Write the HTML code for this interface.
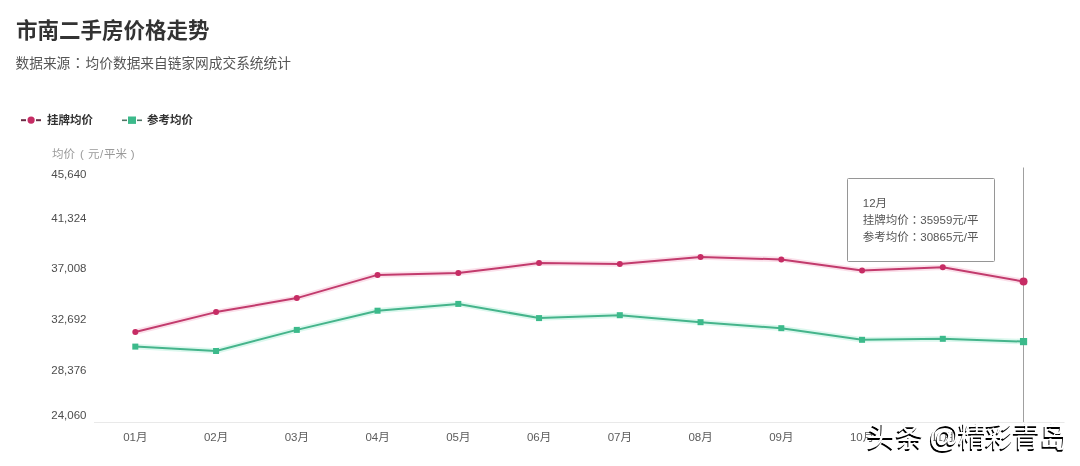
<!DOCTYPE html>
<html lang="zh-CN"><head><meta charset="utf-8"><title>市南二手房价格走势</title>
<style>
html,body{margin:0;padding:0;background:#fff;}
body{width:1080px;height:466px;position:relative;overflow:hidden;font-family:"Liberation Sans","Noto Sans CJK SC",sans-serif;}
.t{position:absolute;left:16px;top:16px;font-size:21.5px;font-weight:700;color:#333;line-height:30px;white-space:nowrap;}
.st{position:absolute;left:15.5px;top:53.5px;font-size:13.7px;color:#555;line-height:20px;white-space:nowrap;}
.lg{position:absolute;top:111px;font-size:11.5px;font-weight:700;color:#333;line-height:18px;white-space:nowrap;}
.yn{position:absolute;left:52px;top:145px;font-size:11.5px;color:#999;line-height:18px;white-space:nowrap;}
.yl{position:absolute;left:20px;width:66.5px;text-align:right;font-size:11.5px;color:#4d4d4d;line-height:14px;white-space:nowrap;}
.xl{position:absolute;top:429px;width:60px;text-align:center;font-size:11.5px;color:#5c5c5c;line-height:16px;white-space:nowrap;}
.tip{position:absolute;left:847px;top:178px;width:146px;height:82px;border:1px solid #969696;border-radius:1.5px;background:#fff;}
.tip div{position:absolute;left:14.8px;font-size:11.5px;color:#555;line-height:16px;white-space:nowrap;}
.wm.wa{font-size:31px;top:419px;}
.pp{display:inline-block;width:11.5px;text-align:center;}
.c{font-family:"Liberation Sans","Noto Sans CJK TC",sans-serif;}
.wm{position:absolute;top:419.5px;font-size:28px;font-weight:400;color:#fff;line-height:36px;white-space:nowrap;text-shadow:-1px 1.7px 0.6px #000;font-family:"Liberation Sans","Noto Sans CJK SC",sans-serif;}
</style></head><body>
<div class="t">市南二手房价格走势</div>
<div class="st">数据来源<span class="c" lang="zh-TW" style="margin:0 0.8px">：</span>均价数据来自链家网成交系统统计</div>
<svg width="1080" height="466" viewBox="0 0 1080 466" style="position:absolute;left:0;top:0">
<line x1="94" y1="422.5" x2="1064.5" y2="422.5" stroke="#e9e9e9" stroke-width="1"/>
<line x1="1023.5" y1="167.5" x2="1023.5" y2="422" stroke="#a0a0a0" stroke-width="1"/>
<polyline points="135.3,332.0 216.05,312.1 296.8,298.1 377.55,274.9 458.3,273.1 539.05,263.1 619.8,264.1 700.55,257.1 781.3,259.4 862.05,270.6 942.8,267.2 1023.55,281.5" fill="none" stroke="#fbe0ea" stroke-width="5.5" stroke-linejoin="round"/>
<polyline points="135.3,346.6 216.05,351.0 296.8,329.9 377.55,310.7 458.3,303.9 539.05,318.1 619.8,315.2 700.55,322.2 781.3,328.2 862.05,339.8 942.8,338.8 1023.55,341.6" fill="none" stroke="#dcf8ee" stroke-width="5.5" stroke-linejoin="round"/>
<polyline points="135.3,332.0 216.05,312.1 296.8,298.1 377.55,274.9 458.3,273.1 539.05,263.1 619.8,264.1 700.55,257.1 781.3,259.4 862.05,270.6 942.8,267.2 1023.55,281.5" fill="none" stroke="#c23b6d" stroke-width="2" stroke-linejoin="round"/>
<polyline points="135.3,346.6 216.05,351.0 296.8,329.9 377.55,310.7 458.3,303.9 539.05,318.1 619.8,315.2 700.55,322.2 781.3,328.2 862.05,339.8 942.8,338.8 1023.55,341.6" fill="none" stroke="#45b48b" stroke-width="2" stroke-linejoin="round"/>
<circle cx="135.3" cy="332.0" r="3.0" fill="#c62c64"/>
<circle cx="216.05" cy="312.1" r="3.0" fill="#c62c64"/>
<circle cx="296.8" cy="298.1" r="3.0" fill="#c62c64"/>
<circle cx="377.55" cy="274.9" r="3.0" fill="#c62c64"/>
<circle cx="458.3" cy="273.1" r="3.0" fill="#c62c64"/>
<circle cx="539.05" cy="263.1" r="3.0" fill="#c62c64"/>
<circle cx="619.8" cy="264.1" r="3.0" fill="#c62c64"/>
<circle cx="700.55" cy="257.1" r="3.0" fill="#c62c64"/>
<circle cx="781.3" cy="259.4" r="3.0" fill="#c62c64"/>
<circle cx="862.05" cy="270.6" r="3.0" fill="#c62c64"/>
<circle cx="942.8" cy="267.2" r="3.0" fill="#c62c64"/>
<circle cx="1023.55" cy="281.5" r="4.0" fill="#c62c64"/>
<rect x="132.3" y="343.6" width="6" height="6" fill="#3cba8b"/>
<rect x="213.05" y="348.0" width="6" height="6" fill="#3cba8b"/>
<rect x="293.8" y="326.9" width="6" height="6" fill="#3cba8b"/>
<rect x="374.55" y="307.7" width="6" height="6" fill="#3cba8b"/>
<rect x="455.3" y="300.9" width="6" height="6" fill="#3cba8b"/>
<rect x="536.05" y="315.1" width="6" height="6" fill="#3cba8b"/>
<rect x="616.8" y="312.2" width="6" height="6" fill="#3cba8b"/>
<rect x="697.55" y="319.2" width="6" height="6" fill="#3cba8b"/>
<rect x="778.3" y="325.2" width="6" height="6" fill="#3cba8b"/>
<rect x="859.05" y="336.8" width="6" height="6" fill="#3cba8b"/>
<rect x="939.8" y="335.8" width="6" height="6" fill="#3cba8b"/>
<rect x="1019.9499999999999" y="338.0" width="7.2" height="7.2" fill="#3cba8b"/>
<line x1="21" y1="120.2" x2="26" y2="120.2" stroke="#6a2c44" stroke-width="2"/>
<line x1="36" y1="120.2" x2="41" y2="120.2" stroke="#6a2c44" stroke-width="2"/>
<circle cx="31.1" cy="120.1" r="3.6" fill="#c62c64"/>
<line x1="122" y1="120.3" x2="127" y2="120.3" stroke="#4f7564" stroke-width="1.6"/>
<line x1="137" y1="120.3" x2="142" y2="120.3" stroke="#4f7564" stroke-width="1.6"/>
<rect x="128" y="116.5" width="8" height="7.4" fill="#3cba8b"/>
</svg>
<div class="lg" style="left:47px">挂牌均价</div>
<div class="lg" style="left:147px">参考均价</div>
<div class="yn">均价<span class="pp" style="width:13px;text-align:left;padding-left:5px;box-sizing:border-box">(</span>元<span style="padding:0 0.6px">/</span>平米<span class="pp">)</span></div>
<div class="yl" style="top:166.5px">45,640</div>
<div class="yl" style="top:210.8px">41,324</div>
<div class="yl" style="top:261.4px">37,008</div>
<div class="yl" style="top:312.2px">32,692</div>
<div class="yl" style="top:363.2px">28,376</div>
<div class="yl" style="top:407.5px">24,060</div>
<div class="xl" style="left:105.30px">01月</div>
<div class="xl" style="left:186.05px">02月</div>
<div class="xl" style="left:266.80px">03月</div>
<div class="xl" style="left:347.55px">04月</div>
<div class="xl" style="left:428.30px">05月</div>
<div class="xl" style="left:509.05px">06月</div>
<div class="xl" style="left:589.80px">07月</div>
<div class="xl" style="left:670.55px">08月</div>
<div class="xl" style="left:751.30px">09月</div>
<div class="xl" style="left:832.05px">10月</div>
<div class="xl" style="left:912.80px">11月</div>
<div class="xl" style="left:993.55px;visibility:hidden">12月</div>
<div class="tip">
<div style="top:16px">12月</div>
<div style="top:32.5px">挂牌均价<span class="c" lang="zh-TW">：</span>35959元/平</div>
<div style="top:49.5px">参考均价<span class="c" lang="zh-TW">：</span>30865元/平</div>
</div>
<div class="wm" style="left:866.75px">头</div>
<div class="wm" style="left:895.45px">条</div>
<div class="wm wa" style="left:928.5px">@</div>
<div class="wm" style="left:957.95px">精</div>
<div class="wm" style="left:985.05px">彩</div>
<div class="wm" style="left:1012.25px">青</div>
<div class="wm" style="left:1039.55px">岛</div>
</body></html>
